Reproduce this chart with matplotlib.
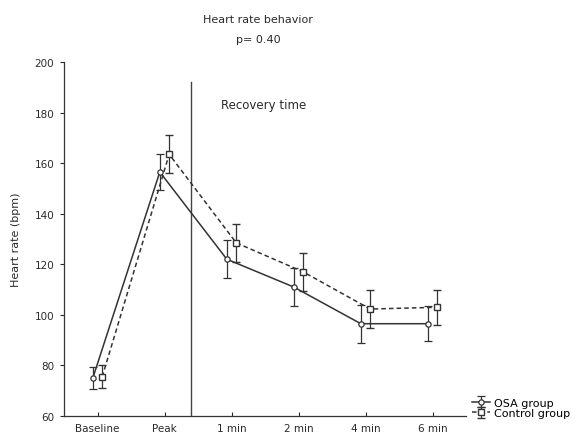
import matplotlib
matplotlib.use("Agg")
import matplotlib.pyplot as plt
import numpy as np

plt.rcParams['font.family'] = ['DejaVu Sans']

categories = ["Baseline", "Peak", "1 min", "2 min", "4 min", "6 min"]
osa_mean = [75.0, 156.5, 122.0, 111.0, 96.5, 96.5]
osa_err = [4.5, 7.0, 7.5, 7.5, 7.5, 7.0]
ctrl_mean = [75.5, 163.5, 128.5, 117.0, 102.3, 103.0]
ctrl_err = [4.5, 7.5, 7.5, 7.5, 7.5, 7.0]

fig = plt.figure(figsize=(5.85, 4.35), dpi=100)
ax = fig.add_axes([64/585, 1-417/435, (466-64)/585, (417-63)/435])

x = np.arange(len(categories))
off = 0.07
col = '#333333'
tcol = '#2a2a2a'
h1 = ax.errorbar(x - off, osa_mean, yerr=osa_err, fmt='-o', color=col, lw=1.1,
                 ms=3.8, mfc='white', mec=col, mew=0.9, capsize=3, elinewidth=0.9,
                 capthick=0.9, label='OSA group')
h2 = ax.errorbar(x + off, ctrl_mean, yerr=ctrl_err, fmt='--s', color=col, lw=1.1,
                 ms=4.2, mfc='white', mec=col, mew=1.0, capsize=3, elinewidth=0.9,
                 capthick=0.9, label='Control group', dashes=(3, 2))

ax.set_xlim(-0.5, 5.5)
ax.set_ylim(60, 200)
ax.set_yticks(range(60, 201, 20))
ax.set_xticks(x)
ax.set_xticklabels(categories)
ax.set_ylabel("Heart rate (bpm)", fontsize=8, color=tcol, labelpad=10)
ax.tick_params(axis='both', labelsize=7.5, colors=tcol, length=3, width=0.8)
ax.tick_params(axis='x', direction='in', pad=5)
ax.tick_params(axis='y', direction='out', pad=4)
for s in ['top', 'right']:
    ax.spines[s].set_visible(False)
for s in ['left', 'bottom']:
    ax.spines[s].set_color('#333333')
    ax.spines[s].set_linewidth(0.9)

ax.plot([1.4, 1.4], [60, 192], color='#444444', lw=1.0)
ax.text(1.84, 183, "Recovery time", fontsize=8.5, color=tcol, ha='left', va='center')

fig.text(258/585, 1-20/435, "Heart rate behavior", fontsize=8, ha='center', va='center', color=tcol)
fig.text(258/585, 1-40/435, "p= 0.40", fontsize=8, ha='center', va='center', color=tcol)

fig.legend(handles=[h1, h2], loc='center left', bbox_to_anchor=(472/585, 1-409/435),
           frameon=False, fontsize=8, handlelength=1.6, handletextpad=0.4,
           borderaxespad=0, labelspacing=0.05, borderpad=0)

fig.savefig("out.png", dpi=100, facecolor='white')
